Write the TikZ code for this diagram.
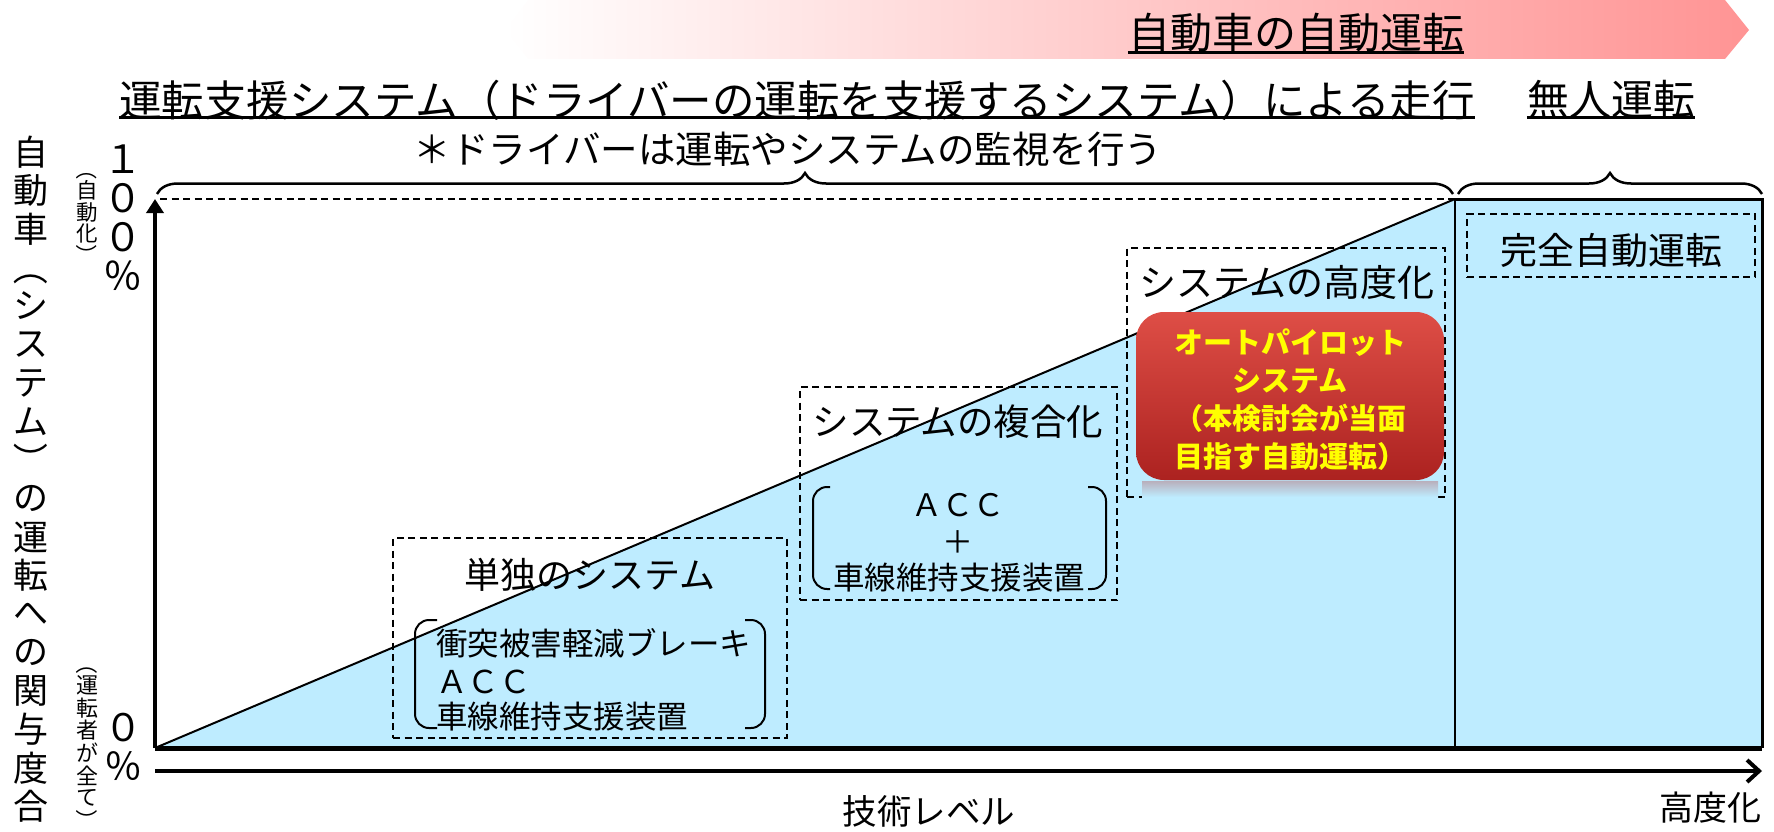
\documentclass[tikz,border=0pt]{standalone}
\usepackage{graphicx}
\usepackage{fontspec}
\setmainfont{Noto Sans CJK JP}
\usetikzlibrary{arrows.meta,decorations.pathreplacing}
\definecolor{skyfill}{RGB}{190,236,255}
\definecolor{bannerpink}{RGB}{255,148,148}
\definecolor{redtop}{RGB}{222,78,70}
\definecolor{redmid}{RGB}{206,58,52}
\definecolor{redbot}{RGB}{172,34,32}
\definecolor{autoyellow}{RGB}{255,255,0}
\newcommand\vp[1]{\rotatebox[origin=c]{-90}{#1}}
\tikzset{
  lbl/.style={inner sep=0pt, font=\fontsize{#1}{#1}\selectfont},
  dbox/.style={draw, line width=2pt, dash pattern=on 7pt off 4.5pt, inner sep=0pt},
  bracketline/.style={line width=2pt, rounded corners=14pt},
  bracelabel/.style={decorate, decoration={brace, amplitude=21pt}, line width=2.5pt},
  uline/.style={line width=3pt},
  redtext/.style={inner sep=0pt, align=center, text=autoyellow, font=\fontsize{29}{38}\selectfont\bfseries},
}
\begin{document}
\begin{tikzpicture}[x=1pt,y=-1pt]
\useasboundingbox (0,0) rectangle (1774,832);
% banner
\shade[left color=white, right color=bannerpink] (505,30) -- (528,0) -- (1725,0) -- (1749,30) -- (1725,59) -- (528,59) -- cycle;
\node[lbl=42] (title) at (1296,33) {自動車の自動運転};
\draw[uline] (title.west |- 0,53) -- (title.east |- 0,53);
\node[lbl=42.5] (row2) at (797,100) {運転支援システム（ドライバーの運転を支援するシステム）による走行};
\draw[uline] (row2.west |- 0,118) -- (row2.east |- 0,118);
\node[lbl=42] (unman) at (1611,100) {無人運転};
\draw[uline] (unman.west |- 0,118) -- (unman.east |- 0,118);
\node[lbl=37.5] (note) at (788,149) {＊ドライバーは運転やシステムの監視を行う};
% braces
\coordinate (bl1) at (157,194);
\coordinate (br1) at (1453,194);
\coordinate (bl2) at (1458,194);
\coordinate (br2) at (1762,194);
\draw[bracelabel] (bl1) -- (br1);
\draw[bracelabel] (bl2) -- (br2);
% chart area
\coordinate (O) at (155,748);
\coordinate (Otop) at (155,199);
\coordinate (Dl) at (160,199);
\coordinate (P) at (1455,199);
\coordinate (Pb) at (1455,748);
\coordinate (R) at (1762,199);
\coordinate (Rb) at (1762,748);
\coordinate (Xs) at (155,771);
\coordinate (Xe) at (1762,771);
\fill[skyfill] (O) -- (P) -- (R) -- (Rb) -- cycle;
\draw[line width=2pt] (O) -- (P);
\draw[line width=2pt, dash pattern=on 7pt off 4.5pt] (Dl) -- (P);
\draw[line width=2.2pt] (P) -- (Pb);
\draw[line width=3pt] (P) -- (R) -- (Rb);
\draw[line width=5pt] (O) -- (Rb);
\draw[line width=3.5pt, -{Triangle[length=14pt,width=17pt]}] (O) -- (Otop);
\draw[line width=4pt, -{Straight Barb[length=12pt,width=22pt]}] (Xs) -- (Xe);
% box 1
\node[dbox, minimum width=394pt, minimum height=200pt] (b1) at (590,638) {};
\node[lbl=36] (t1) at (590,575) {単独のシステム};
\node[lbl=31.5, anchor=west] (t1a) at (436,643) {衝突被害軽減ブレーキ};
\node[lbl=31.5, anchor=west] (t1b) at (436,682) {ＡＣＣ};
\node[lbl=31.5, anchor=west] (t1c) at (436,717) {車線維持支援装置};
\draw[bracketline] (437,620) -- (415,620) -- (415,728) -- (437,728);
\draw[bracketline] (745,620) -- (765,620) -- (765,728) -- (745,728);
% box 2
\node[dbox, minimum width=317pt, minimum height=213pt] (b2) at (958.5,493.5) {};
\node[lbl=36.5] (t2) at (958,422) {システムの複合化};
\node[lbl=31] (t2a) at (958,505) {ＡＣＣ};
\node[lbl=31] (t2b) at (958,542) {＋};
\node[lbl=31.5] (t2c) at (959,578) {車線維持支援装置};
\draw[bracketline] (830,487) -- (813,487) -- (813,589) -- (830,589);
\draw[bracketline] (1088,487) -- (1106,487) -- (1106,589) -- (1088,589);
% box 3
\node[dbox, minimum width=318pt, minimum height=249pt] (b3) at (1286,372.5) {};
\node[lbl=37] (t3) at (1287,282) {システムの高度化};
\shade[top color=redbot!30!skyfill, bottom color=skyfill] (1142,481) rectangle (1438,497);
\node[rounded corners=28pt, minimum width=308pt, minimum height=168pt, top color=redtop, middle color=redmid, bottom color=redbot, inner sep=0pt] (ap) at (1290,396) {};
\node[redtext] (apt) at (1290,400) {オートパイロット\\システム\\（本検討会が当面\\目指す自動運転）};
% box 4
\node[dbox, minimum width=288pt, minimum height=63pt] (b4) at (1611,245.5) {};
\node[lbl=37] (t4) at (1611,250) {完全自動運転};
% axis labels
\node[lbl=34.5] (xl) at (929,811) {技術レベル};
\node[lbl=34] (xr) at (1710,808) {高度化};
% vertical labels, one character per step
\foreach \ch [count=\i from 0] in {自,動,車,{\vp{（}},シ,ス,テ,ム,{\vp{）}},の,運,転,へ,の,関,与,度,合}
  \node[lbl=35] (yl\i) at (31,152+38.5*\i) {\ch};
\foreach \ch [count=\i from 0] in {１,０,０,％}
  \node[lbl=39] (yh\i) at (123,159+39*\i) {\ch};
\foreach \ch [count=\i from 0] in {０,％}
  \node[lbl=38] (yz\i) at (123,728+38*\i) {\ch};
\foreach \ch [count=\i from 0] in {{\vp{（}},自,動,化,{\vp{）}}}
  \node[lbl=21.5] (ya\i) at (87,169+21.6*\i) {\ch};
\foreach \ch [count=\i from 0] in {{\vp{（}},運,転,者,が,全,て,{\vp{）}}}
  \node[lbl=22] (yd\i) at (87,663+22.5*\i) {\ch};
\end{tikzpicture}
\end{document}
